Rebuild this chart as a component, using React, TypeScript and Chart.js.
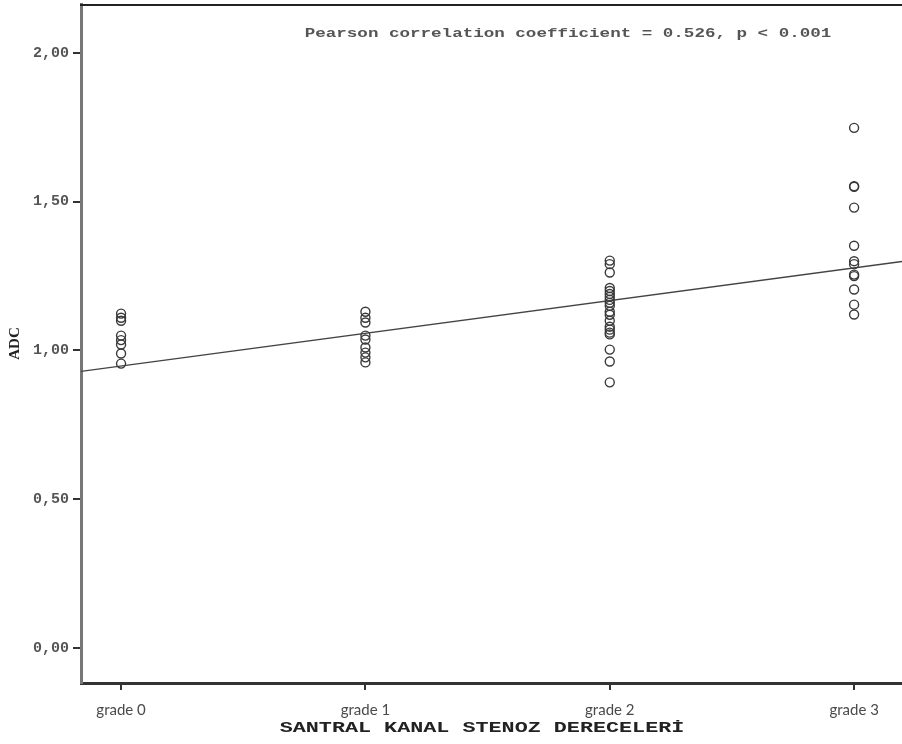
import React, { useEffect, useRef } from "react";
import { Chart, registerables } from "chart.js";

Chart.register(...registerables);

const categories = ["grade 0", "grade 1", "grade 2", "grade 3"];
const grade0 = [1.124, 1.11, 1.1, 1.05, 1.035, 1.02, 0.99, 0.956];
const grade1 = [1.13, 1.11, 1.094, 1.05, 1.037, 1.01, 0.993, 0.977, 0.96];
const grade2 = [1.302, 1.29, 1.262, 1.21, 1.2, 1.19, 1.18, 1.17, 1.16, 1.15, 1.13, 1.12, 1.1, 1.08, 1.07, 1.06, 1.054, 1.003, 0.963, 0.893];
const grade3 = [1.748, 1.55, 1.552, 1.48, 1.352, 1.3, 1.29, 1.255, 1.25, 1.205, 1.154, 1.121];
const yTicks = [0, 0.5, 1, 1.5, 2];
const fitX = [-0.164, 3.196];
const fitY = [0.93, 1.299];
const annotation = "Pearson correlation coefficient = 0.526, p < 0.001";
const xTitle = "SANTRAL KANAL STENOZ DERECELERİ";
const yTitle = "ADC";

function drawStretched(ctx: CanvasRenderingContext2D, text: string, cx: number, cy: number, font: string, color: string, sx: number) {
  ctx.save();
  ctx.font = font;
  ctx.fillStyle = color;
  ctx.textAlign = "center";
  ctx.textBaseline = "middle";
  ctx.translate(cx, cy);
  ctx.scale(sx, 1);
  ctx.fillText(text, 0, 0);
  ctx.restore();
}

const decorPlugin = {
  id: "decor",
  afterDraw(chart: any) {
    const { ctx, chartArea } = chart;
    ctx.save();
    ctx.strokeStyle = "#222";
    ctx.lineWidth = 2;
    ctx.beginPath();
    ctx.moveTo(chartArea.left - 1, chartArea.top + 1);
    ctx.lineTo(chartArea.right, chartArea.top + 1);
    ctx.stroke();
    ctx.restore();
    drawStretched(ctx, annotation, 568, 34, "bold 13px 'Liberation Mono'", "#555", 1.35);
    drawStretched(ctx, xTitle, 482, 728, "bold 15px 'Liberation Mono'", "#222", 1.45);
  },
};

const zeroPad = (s: any) => {
  s.paddingTop = 0;
  s.paddingBottom = 0;
  s.paddingLeft = 0;
  s.paddingRight = 0;
};

export default function App() {
  const ref = useRef<HTMLCanvasElement>(null);
  useEffect(() => {
    if (!ref.current) return;
    const groups = [grade0, grade1, grade2, grade3];
    const points = groups.flatMap((g, i) => g.map((v) => ({ x: i, y: v })));
    const chart = new Chart(ref.current, {
      type: "scatter",
      data: {
        datasets: [
          {
            type: "scatter",
            label: "ADC",
            data: points,
            pointStyle: "circle",
            pointRadius: 4.5,
            pointBorderWidth: 1.4,
            borderColor: "#3a3a3a",
            backgroundColor: "rgba(0,0,0,0)",
          } as any,
          {
            type: "line",
            label: "fit",
            data: fitX.map((x, i) => ({ x, y: fitY[i] })),
            borderColor: "#444",
            borderWidth: 1.4,
            pointRadius: 0,
            fill: false,
          } as any,
        ],
      },
      plugins: [decorPlugin],
      options: {
        animation: false,
        responsive: false,
        layout: { autoPadding: false, padding: { top: 4, left: 0, right: 0, bottom: 0 } },
        plugins: { legend: { display: false }, tooltip: { enabled: false } },
        scales: {
          x: {
            type: "linear",
            min: fitX[0],
            max: fitX[1],
            afterBuildTicks: (s: any) => {
              s.ticks = categories.map((_, i) => ({ value: i }));
            },
            afterFit: (s: any) => {
              s.height = 61;
              zeroPad(s);
            },
            ticks: {
              callback: (v: any) => categories[Math.round(Number(v))] ?? "",
              font: { family: "Lato", size: 15 },
              color: "#4a4a4a",
              padding: 11,
              maxRotation: 0,
            },
            grid: { display: true, drawOnChartArea: false, drawTicks: true, tickLength: 7, color: "#333", lineWidth: 2 },
            border: { display: true, color: "#333", width: 3 },
          },
          y: {
            type: "linear",
            min: -0.117,
            max: 2.164,
            afterBuildTicks: (s: any) => {
              s.ticks = yTicks.map((v) => ({ value: v }));
            },
            afterFit: (s: any) => {
              s.width = 81;
              zeroPad(s);
            },
            ticks: {
              callback: (v: any) => Number(v).toFixed(2).replace(".", ","),
              font: { family: "Liberation Mono", size: 15, weight: "bold" },
              color: "#555",
              padding: 4,
            },
            title: {
              display: true,
              text: yTitle,
              font: { family: "Liberation Serif", size: 15, weight: "bold" },
              color: "#222",
              padding: { top: 6, bottom: 0 },
            },
            grid: { display: true, drawOnChartArea: false, drawTicks: true, tickLength: 8, color: "#333", lineWidth: 2 },
            border: { display: true, color: "#777", width: 3 },
          },
        },
      },
    });
    return () => chart.destroy();
  }, []);
  return (
    <div style={{ position: "absolute", left: 0, top: 0, width: 902, height: 744, background: "#fff" }}>
      <canvas ref={ref} width={902} height={744} style={{ display: "block" }} />
    </div>
  );
}
